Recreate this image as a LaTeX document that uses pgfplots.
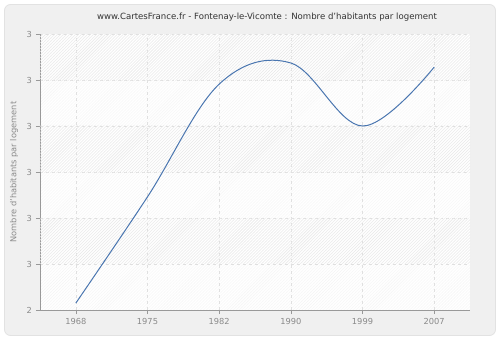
\documentclass[border=0pt]{standalone}
\usepackage{pgfplots}
\pgfplotsset{compat=1.18}
\usepackage{fontspec}
\setmainfont{DejaVu Sans}
\usetikzlibrary{patterns}
\definecolor{outerbg}{HTML}{F0F0F0}
\definecolor{bordercol}{HTML}{E2E2E2}
\definecolor{hatchlight}{HTML}{F5F5F5}
\definecolor{hatchdark}{HTML}{EAEAEA}
\definecolor{gridcol}{HTML}{E0E0E0}
\definecolor{axiscol}{HTML}{999999}
\definecolor{tickcol}{HTML}{8A8A8A}
\definecolor{titlecol}{HTML}{333333}
\definecolor{linecol}{HTML}{4A76B0}
\begin{document}
\begin{tikzpicture}[x=1bp,y=1bp]
\path[use as bounding box, fill=white] (-40,-30) rectangle (460,310);
\draw[rounded corners=6bp, fill=outerbg, draw=bordercol, line width=0.8bp] (-35.5,-25.5) rectangle (455.5,305.5);
\begin{axis}[
  at={(0,0)}, anchor=south west,
  scale only axis, width=430bp, height=276bp,
  xmin=-0.5, xmax=5.5, ymin=2.4, ymax=3.0,
  xtick={0,1,2,3,4,5},
  xticklabels={1968,1975,1982,1990,1999,2007},
  ytick={2.4,2.5,2.6,2.7,2.8,2.9,3.0},
  yticklabels={2,3,3,3,3,3,3},
  axis background/.style={preaction={fill=white}, pattern=north east lines, pattern color=hatchlight},
  grid=major,
  major grid style={dashed, gridcol, line width=0.6bp},
  axis x line*=bottom, axis y line*=left,
  axis line style={-, axiscol, line width=0.8bp},
  tick style={axiscol, line width=0.6bp},
  tick align=outside, major tick length=4bp,
  ticklabel style={font=\fontsize{8.3}{10}\selectfont, text=tickcol},
  xticklabel style={yshift=-1bp},
  yticklabel style={xshift=-0.5bp},
  ylabel={Nombre d'habitants par logement},
  every axis y label/.style={at={(axis description cs:-0.0605,0.5)}, rotate=90, anchor=center, font=\fontsize{8.3}{10}\selectfont, text=tickcol},
  title={www.CartesFrance.fr - Fontenay-le-Vicomte : Nombre d'habitants par logement},
  every axis title/.style={at={(axis description cs:0.5279,1.0616)}, anchor=center, font=\fontsize{8.6}{10}\selectfont, text=titlecol},
]
\path[pattern=north east lines, pattern color=hatchdark] (rel axis cs:0,0.8333) rectangle (rel axis cs:1,1);
\path[pattern=north east lines, pattern color=hatchdark] (rel axis cs:0,0.5) rectangle (rel axis cs:1,0.6667);
\path[pattern=north east lines, pattern color=hatchdark] (rel axis cs:0,0.1667) rectangle (rel axis cs:1,0.3333);
\addplot[smooth, tension=0.6, color=linecol, line width=1bp] coordinates {
  (0,2.415) (1,2.646) (2,2.891) (3,2.937) (4,2.800) (5,2.928)
};
\end{axis}
\end{tikzpicture}
\end{document}
